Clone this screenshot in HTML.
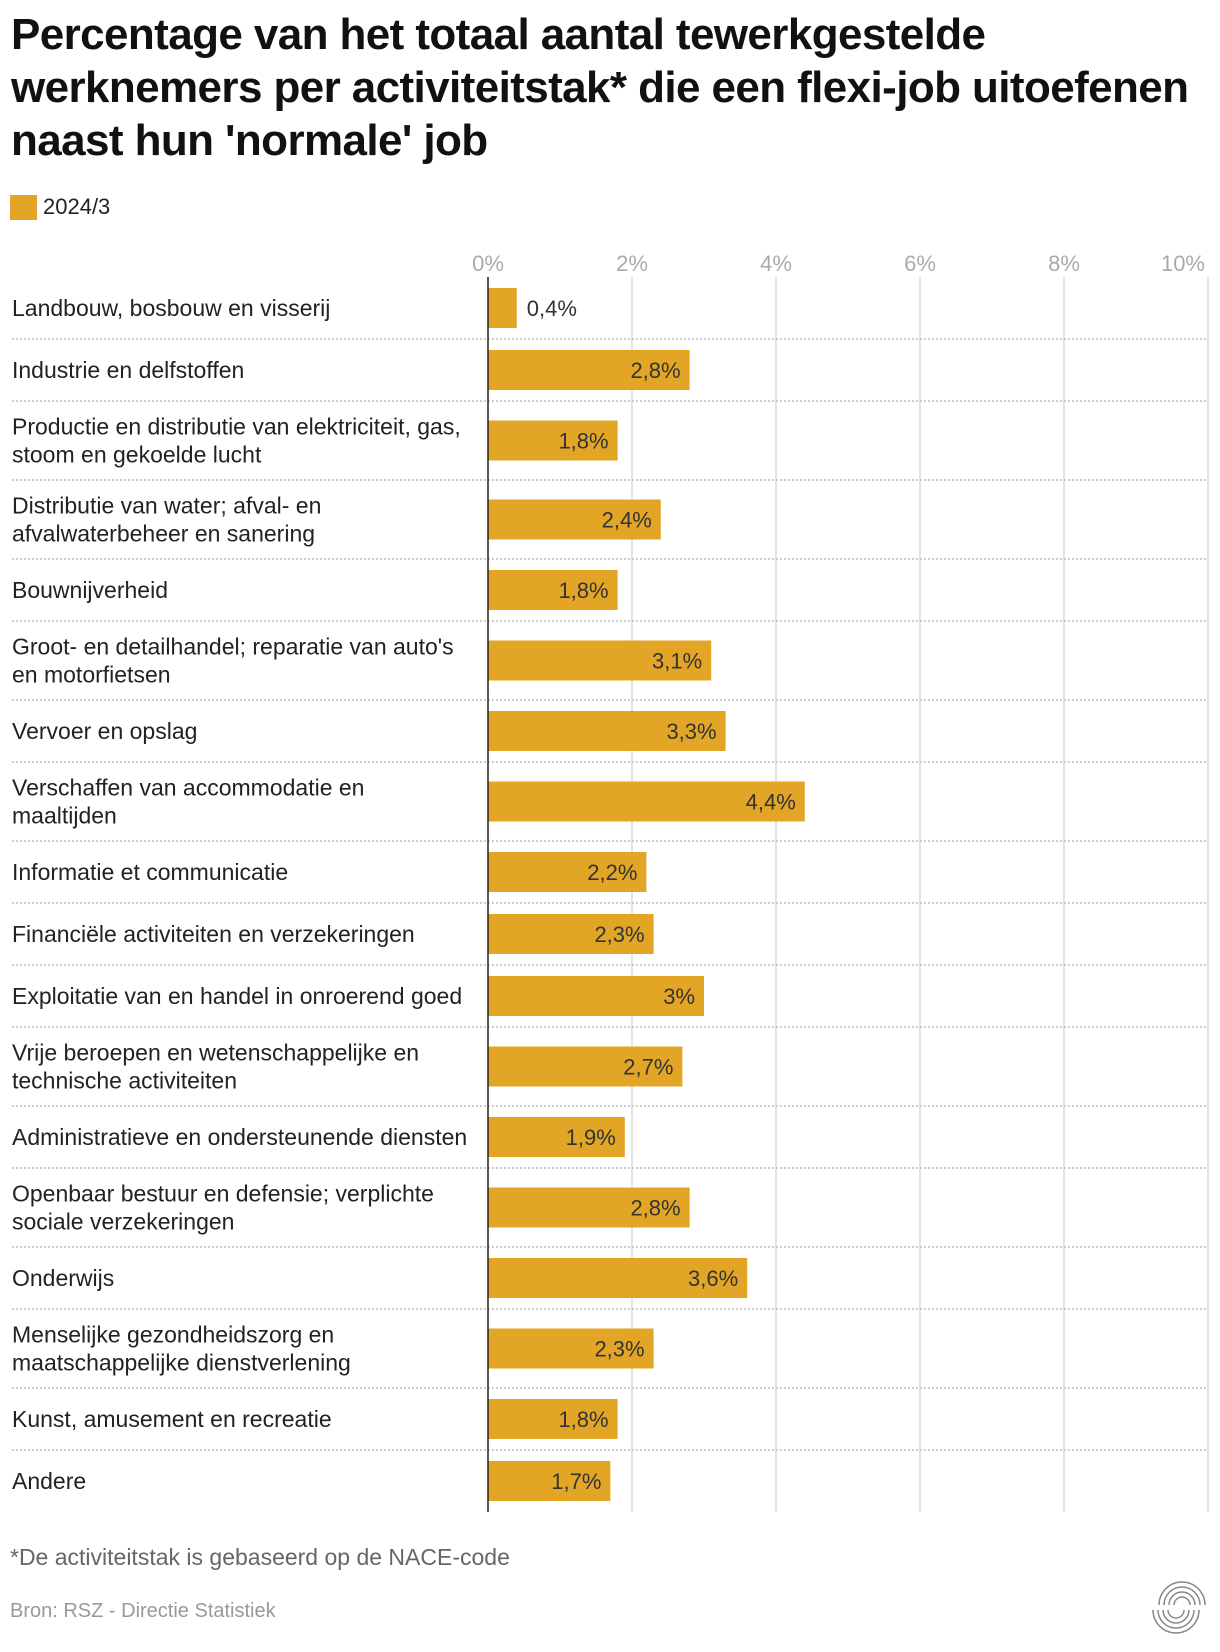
<!DOCTYPE html>
<html><head><meta charset="utf-8"><style>
body{margin:0;width:1220px;height:1652px;background:#fff;font-family:"Liberation Sans",sans-serif;overflow:hidden;position:relative}
.t{position:absolute;left:11px;top:8px;font-size:44px;font-weight:bold;line-height:53px;color:#111;letter-spacing:-0.6px}
svg{position:absolute;left:0;top:0}
</style></head><body>
<div class="t">Percentage van het totaal aantal tewerkgestelde<br>werknemers per activiteitstak* die een flexi-job uitoefenen<br>naast hun 'normale' job</div>
<svg id="c" width="1220" height="1652"></svg>
<script>
const categories=[["Landbouw, bosbouw en visserij"],["Industrie en delfstoffen"],["Productie en distributie van elektriciteit, gas,","stoom en gekoelde lucht"],["Distributie van water; afval- en","afvalwaterbeheer en sanering"],["Bouwnijverheid"],["Groot- en detailhandel; reparatie van auto's","en motorfietsen"],["Vervoer en opslag"],["Verschaffen van accommodatie en","maaltijden"],["Informatie et communicatie"],["Financiële activiteiten en verzekeringen"],["Exploitatie van en handel in onroerend goed"],["Vrije beroepen en wetenschappelijke en","technische activiteiten"],["Administratieve en ondersteunende diensten"],["Openbaar bestuur en defensie; verplichte","sociale verzekeringen"],["Onderwijs"],["Menselijke gezondheidszorg en","maatschappelijke dienstverlening"],["Kunst, amusement en recreatie"],["Andere"]];
const values=[0.4,2.8,1.8,2.4,1.8,3.1,3.3,4.4,2.2,2.3,3,2.7,1.9,2.8,3.6,2.3,1.8,1.7];
const valueLabels=["0,4%","2,8%","1,8%","2,4%","1,8%","3,1%","3,3%","4,4%","2,2%","2,3%","3%","2,7%","1,9%","2,8%","3,6%","2,3%","1,8%","1,7%"];
const ticks=[0,2,4,6,8,10];
const tickLabels=["0%","2%","4%","6%","8%","10%"];
const NS="http://www.w3.org/2000/svg",svg=document.getElementById('c');
const x=v=>488+v*72;
function el(t,a,txt){const e=document.createElementNS(NS,t);for(const k in a)e.setAttribute(k,a[k]);if(txt!=null)e.textContent=txt;svg.appendChild(e);return e;}
const top0=277,h1=62,h2=79;
let ys=[],y=top0;
categories.forEach(c=>{const h=c.length>1?h2:h1;ys.push([y,h]);y+=h;});
const bottom=y;
ticks.forEach((t,i)=>{
 if(i>0){const g=el('line',{x1:x(t),x2:x(t),y1:top0,y2:bottom,stroke:'#e3e3e3','stroke-width':2});
 
 }
 const last=i==ticks.length-1;
 const tl=el('text',{x:last?x(t)-3:x(t),y:271,'text-anchor':last?'end':'middle','font-size':22,fill:'#aaa'},tickLabels[i]);
 
 
});
el('rect',{x:10,y:195,width:27,height:25,fill:'#e2a526'});
const lg=el('text',{x:43,y:214,'font-size':22,fill:'#222'},'2024/3');


categories.forEach((c,i)=>{
 const [ry,h]=ys[i],cy=ry+h/2;
 if(i<categories.length-1){const s=el('line',{x1:12,x2:1208,y1:ry+h,y2:ry+h,stroke:'#ccc','stroke-width':2,'stroke-dasharray':'2 2'});
 
 }
 c.forEach((l,j)=>{const t=el('text',{x:12,y:cy+8+(c.length>1?(j-0.5)*28:0),'font-size':23,fill:'#222'},l);
 
 });
 const b=el('rect',{x:x(0),y:cy-20,width:x(values[i])-x(0),height:40,fill:'#e2a526'});
 
 
 const inside=values[i]>1;
 const vl=el('text',{x:inside?x(values[i])-9:x(values[i])+10,y:cy+8,'text-anchor':inside?'end':'start','font-size':22,fill:'#333'},valueLabels[i]);
 
 
});
el('line',{x1:x(0),x2:x(0),y1:top0,y2:bottom,stroke:'#222','stroke-width':1.5});
const fn=el('text',{x:10,y:1565,'font-size':23,fill:'#666'},'*De activiteitstak is gebaseerd op de NACE-code');


const sr=el('text',{x:10,y:1617,'font-size':20,fill:'#999'},'Bron: RSZ - Directie Statistiek');


[8,13,18,23].forEach(r=>{el('path',{d:`M${1182-r} 1605 A${r} ${r} 0 0 1 ${1182+r} 1605`,fill:'none',stroke:'#888','stroke-width':1.5});
el('path',{d:`M${1176-r} 1610 A${r} ${r} 0 0 0 ${1176+r} 1610`,fill:'none',stroke:'#888','stroke-width':1.5});});
</script>
</body></html>
